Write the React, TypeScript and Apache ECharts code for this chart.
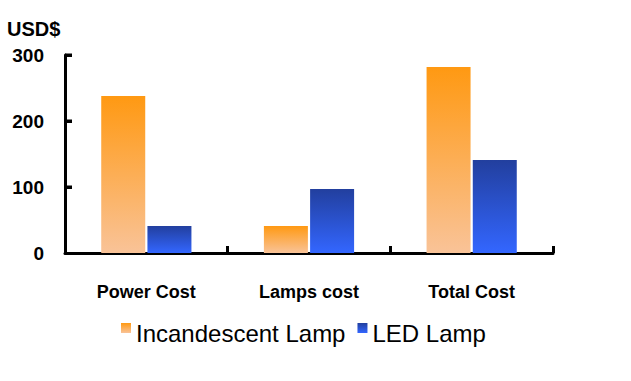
import React, { useEffect, useRef } from "react";
import * as echarts from "echarts";

const categories = ["Power Cost", "Lamps cost", "Total Cost"];
const incandescent = [238, 41, 282];
const led = [41, 97, 141];
const seriesNames = ["Incandescent Lamp", "LED Lamp"];
const yTicks = { min: 0, max: 300, interval: 100 };
const yTickValues = [100, 200, 300];

const FONT = "'Liberation Sans', Arial, sans-serif";
const GRID_LEFT = 65;

const grad = (top: string, bottom: string, y2 = 1) =>
  new echarts.graphic.LinearGradient(0, 0, 0, y2, [
    { offset: 0, color: top },
    { offset: 1, color: bottom },
  ]);

export default function App() {
  const ref = useRef<HTMLDivElement>(null);
  useEffect(() => {
    if (!ref.current) return;
    const chart = echarts.init(ref.current, undefined, { renderer: "svg" });
    const icon = "path://M0,0h10v10h-10zM0,20h0.01v0.01h-0.01z";
    chart.setOption({
      animation: false,
      backgroundColor: "#fff",
      grid: { left: GRID_LEFT, right: 78, top: 55, bottom: 128 },
      graphic: {
        elements: [
          {
            id: "unit",
            type: "text",
            left: 7,
            top: 19,
            style: { text: "USD$", font: `bold 20px ${FONT}`, fill: "#000" },
          },
        ],
      },
      legend: {
        left: 121,
        top: 321,
        padding: 0,
        itemWidth: 10,
        itemHeight: 20,
        itemGap: 12,
        textStyle: { fontFamily: FONT, fontSize: 24, color: "#000" },
        data: [
          {
            name: seriesNames[0],
            icon,
            itemStyle: { color: grad("#FF9912", "#F9C398", 0.5) },
          },
          {
            name: seriesNames[1],
            icon,
            itemStyle: { color: grad("#223F9E", "#3366FF", 0.5) },
          },
        ],
      },
      xAxis: {
        type: "category",
        data: categories,
        boundaryGap: true,
        axisLine: { show: true, lineStyle: { color: "#000", width: 3 } },
        axisTick: {
          show: true,
          alignWithLabel: false,
          inside: true,
          length: 7,
          lineStyle: { color: "#000", width: 3 },
        },
        axisLabel: {
          margin: 30,
          color: "#000",
          fontFamily: FONT,
          fontWeight: "bold",
          fontSize: 18,
        },
      },
      yAxis: {
        type: "value",
        position: "left",
        min: yTicks.min,
        max: yTicks.max,
        interval: yTicks.interval,
        splitLine: { show: false },
        axisLine: { show: true, lineStyle: { color: "#000", width: 3 } },
        axisTick: {
          show: true,
          inside: true,
          length: 7,
          lineStyle: { color: "#000", width: 3 },
        },
        axisLabel: {
          show: true,
          margin: 21,
          color: "#000",
          fontFamily: FONT,
          fontWeight: "bold",
          fontSize: 19,
        },
      },
      series: [
        {
          name: seriesNames[0],
          type: "bar",
          data: incandescent,
          barWidth: 44,
          barGap: "5%",
          itemStyle: { color: grad("#FF9912", "#F9C398") },
        },
        {
          name: seriesNames[1],
          type: "bar",
          data: led,
          barWidth: 44,
          barGap: "5%",
          itemStyle: { color: grad("#223F9E", "#3366FF") },
        },
      ],
    });
    try {
      const tickEls = yTickValues
        .map((v, i) => {
          const y = chart.convertToPixel({ yAxisIndex: 0 }, v) as number;
          if (typeof y !== "number" || !isFinite(y)) return null;
          return {
            id: "ytick" + i,
            type: "line",
            shape: { x1: GRID_LEFT, y1: y, x2: GRID_LEFT + 7, y2: y },
            style: { stroke: "#000", lineWidth: 3 },
            z: 10,
          };
        })
        .filter(Boolean);
      chart.setOption({ graphic: { elements: tickEls } });
    } catch (e) {
      // ignore
    }
    return () => chart.dispose();
  }, []);
  return (
    <div
      ref={ref}
      style={{ position: "fixed", left: 0, top: 0, width: 631, height: 381 }}
    />
  );
}
